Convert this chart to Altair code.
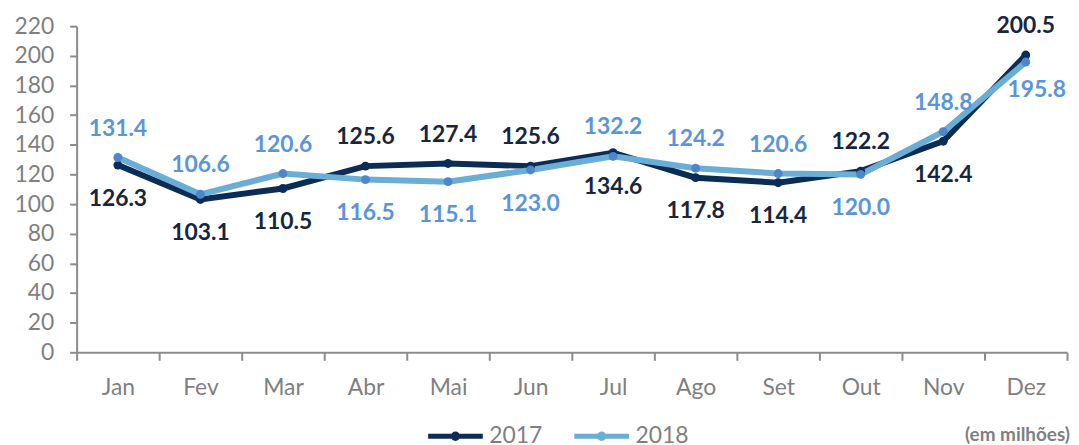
import altair as alt
import pandas as pd

months = ["Jan", "Fev", "Mar", "Abr", "Mai", "Jun", "Jul", "Ago", "Set", "Out", "Nov", "Dez"]
v2017 = [126.3, 103.1, 110.5, 125.6, 127.4, 125.6, 134.6, 117.8, 114.4, 122.2, 142.4, 200.5]
v2018 = [131.4, 106.6, 120.6, 116.5, 115.1, 123.0, 132.2, 124.2, 120.6, 120.0, 148.8, 195.8]
pos2017 = ["below", "below", "below", "above", "above", "above", "below", "below", "below", "above", "below", "above"]
pos2018 = ["above", "above", "above", "below", "below", "below", "above", "above", "above", "below", "above", "belowright"]
series = ["2017", "2018"]
y_ticks = list(range(0, 221, 20))
note_text = "(em milhões)"

rows = []
for m, a, b, pa, pb in zip(months, v2017, v2018, pos2017, pos2018):
    rows.append({"month": m, "series": "2017", "value": a, "pos": pa})
    rows.append({"month": m, "series": "2018", "value": b, "pos": pb})
df = pd.DataFrame(rows)

FONT = "Lato"
LINE_COLORS = ["#0B2C55", "#6AADD5"]
POINT_COLORS = ["#0B2C55", "#4F86C9"]
TEXT_COLORS = {"2017": "#17263F", "2018": "#5A95DA"}

x_enc = alt.X(
    "month:N",
    sort=months,
    bandPosition=0.5,
    scale=alt.Scale(type="band", paddingInner=0, paddingOuter=0),
    axis=alt.Axis(
        title=None,
        labelAngle=0,
        tickBand="extent",
        labelFontSize=23,
        labelColor="#7F7F7F",
        labelFont=FONT,
        tickColor="#8C8C8C",
        domainColor="#8C8C8C",
        tickSize=8,
        tickWidth=2,
        domainWidth=2,
        labelPadding=16,
        grid=False,
    ),
)
y_enc = alt.Y(
    "value:Q",
    scale=alt.Scale(domain=[0, 220], nice=False),
    axis=alt.Axis(
        title=None,
        values=y_ticks,
        labelFontSize=23,
        labelColor="#7F7F7F",
        labelFont=FONT,
        tickColor="#8C8C8C",
        domainColor="#8C8C8C",
        tickSize=7,
        tickWidth=2,
        domainWidth=2,
        labelPadding=16,
        grid=False,
    ),
)

base = alt.Chart(df)

legend_symbol = "M-1,0L1,0M-0.08,0A0.08,0.08,0,1,1,0.08,0A0.08,0.08,0,1,1,-0.08,0"

lines = base.mark_line(strokeWidth=6).encode(
    x=x_enc,
    y=y_enc,
    color=alt.Color(
        "series:N",
        scale=alt.Scale(domain=series, range=LINE_COLORS),
        legend=alt.Legend(
            title=None,
            orient="none",
            direction="horizontal",
            legendX=351,
            legendY=382,
            symbolType=legend_symbol,
            symbolSize=3025,
            symbolStrokeWidth=5,
            labelFontSize=23,
            labelFont=FONT,
            labelColor="#7F7F7F",
            labelOffset=4,
            columnPadding=21,
            padding=0,
        ),
    ),
    detail="series:N",
)

points = base.mark_point(filled=True, size=80, opacity=1).encode(
    x=x_enc,
    y=y_enc,
    fill=alt.Fill("series:N", scale=alt.Scale(domain=series, range=POINT_COLORS), legend=None),
)

texts = []
for s in series:
    for p, dx, dy in (("above", 0, -29), ("below", 0, 34), ("belowright", 11, 28)):
        texts.append(
            base.transform_filter(
                (alt.datum.series == s) & (alt.datum.pos == p)
            ).mark_text(
                font=FONT, fontSize=23, fontWeight="bold", color=TEXT_COLORS[s],
                dx=dx, dy=dy, baseline="middle"
            ).encode(
                x=x_enc,
                y=y_enc,
                text=alt.Text("value:Q", format=".1f"),
            )
        )

note = alt.Chart(alt.Data(values=[{"t": note_text}])).mark_text(
    font=FONT, fontSize=19, fontWeight="bold", color="#7F7F7F", align="right", baseline="middle"
).encode(
    x=alt.value(999),
    y=alt.value(411),
    text="t:N",
)

chart = alt.layer(lines, points, *texts, note).properties(
    width=996,
    height=328,
    padding={"left": 5, "top": 6, "right": 1, "bottom": 5},
).configure_view(stroke=None)

chart.save("out.html", embed_options={"renderer": "svg", "actions": False})
